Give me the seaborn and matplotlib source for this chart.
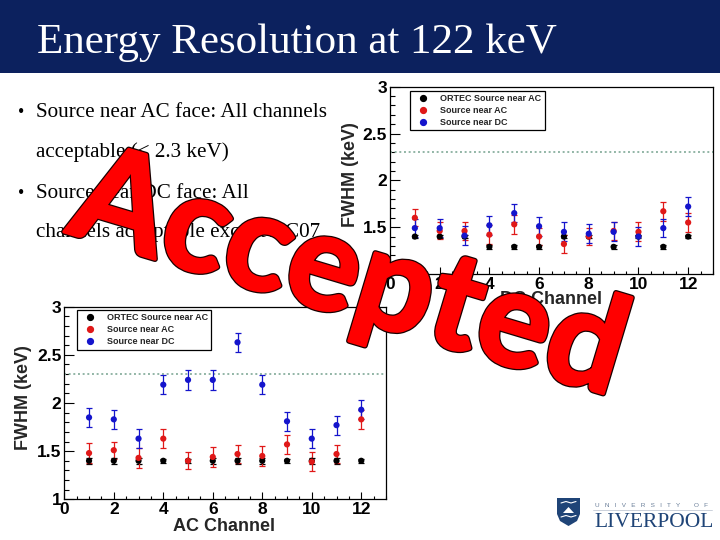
import matplotlib
matplotlib.use("Agg")
import matplotlib.pyplot as plt
import matplotlib.patheffects as pe
from matplotlib.patches import Rectangle, Polygon
from matplotlib.lines import Line2D
from matplotlib.ticker import MultipleLocator, FuncFormatter
import pandas as pd
import seaborn as sns

# ---------------- data ----------------
channels = [1, 2, 3, 4, 5, 6, 7, 8, 9, 10, 11, 12]
series_names = ["ORTEC Source near AC", "Source near AC", "Source near DC"]
series_colors = ["#000000", "#e01818", "#1414cc"]

# AC-channel plot (bottom-left)
ac_ortec = [1.40, 1.40, 1.40, 1.40, 1.40, 1.40, 1.40, 1.40, 1.40, 1.40, 1.40, 1.40]
ac_src_ac = [1.48, 1.51, 1.43, 1.63, 1.40, 1.44, 1.47, 1.45, 1.57, 1.39, 1.47, 1.83]
ac_src_dc = [1.85, 1.83, 1.63, 2.19, 2.24, 2.24, 2.63, 2.19, 1.81, 1.63, 1.77, 1.93]
ac_err_ortec = [0.03, 0.03, 0.03, 0.02, 0.02, 0.03, 0.03, 0.03, 0.02, 0.03, 0.03, 0.02]
ac_err_src_ac = [0.10, 0.09, 0.10, 0.10, 0.09, 0.10, 0.09, 0.10, 0.10, 0.10, 0.09, 0.10]
ac_err_src_dc = [0.10, 0.10, 0.10, 0.10, 0.10, 0.10, 0.10, 0.10, 0.10, 0.10, 0.10, 0.10]

# DC-channel plot (top-right)
dc_ortec = [1.40, 1.40, 1.40, 1.29, 1.29, 1.29, 1.40, 1.40, 1.29, 1.40, 1.29, 1.40]
dc_src_ac = [1.60, 1.46, 1.46, 1.42, 1.53, 1.40, 1.32, 1.40, 1.46, 1.45, 1.67, 1.55]
dc_src_dc = [1.49, 1.49, 1.41, 1.52, 1.65, 1.51, 1.45, 1.43, 1.45, 1.40, 1.49, 1.72]
dc_err_ortec = [0.02, 0.02, 0.02, 0.02, 0.02, 0.02, 0.02, 0.02, 0.02, 0.02, 0.02, 0.02]
dc_err_src_ac = [0.09, 0.09, 0.10, 0.10, 0.10, 0.09, 0.10, 0.09, 0.10, 0.10, 0.10, 0.10]
dc_err_src_dc = [0.10, 0.10, 0.10, 0.10, 0.10, 0.10, 0.10, 0.10, 0.10, 0.10, 0.10, 0.10]

threshold = 2.3
y_ticks = [1, 1.5, 2, 2.5, 3]
x_ticks = [0, 2, 4, 6, 8, 10, 12]

title_text = "Energy Resolution at 122 keV"
bullet_lines = [
    ("\u2022", "Source near AC face: All channels"),
    ("", "acceptable (< 2.3 keV)"),
    ("\u2022", "Source near DC face: All"),
    ("", "channels acceptable except AC07"),
]
stamp_text = "Accepted"
logo_top = "U   N   I   V   E   R   S   I   T   Y        O   F"
logo_main = "LIVERPOOL"

# ---------------- style ----------------
sns.set_style("ticks")
plt.rcParams["font.family"] = ["Liberation Sans", "DejaVu Sans"]
plt.rcParams["font.weight"] = "bold"
plt.rcParams["axes.linewidth"] = 0.9

W, H = 720, 540
fig = plt.figure(figsize=(7.2, 5.4), dpi=100)
fig.patch.set_facecolor("white")


def rect(x0, y0, x1, y1):
    return [x0 / W, 1 - y1 / H, (x1 - x0) / W, (y1 - y0) / H]


def fp(x, y):
    return (x / W, 1 - y / H)


# title bar
fig.patches.append(Rectangle(fp(0, 73), 1, 73 / H, transform=fig.transFigure,
                             facecolor="#0c215e", edgecolor="none", zorder=0))
fig.text(*fp(37, 53), title_text, color="white", family="Liberation Serif",
         weight="normal", fontsize=31, va="baseline", ha="left")

# bullets
baselines = [117, 157, 198, 237]
for (bul, txt), yb in zip(bullet_lines, baselines):
    if bul:
        fig.text(*fp(18, yb), bul, family="Liberation Serif", weight="normal",
                 fontsize=13, va="baseline", ha="left", color="black")
    fig.text(*fp(36, yb), txt, family="Liberation Serif", weight="normal",
             fontsize=15.2, va="baseline", ha="left", color="black")


def make_df(vals_list, errs_list):
    rows = []
    for name, vals, errs in zip(series_names, vals_list, errs_list):
        for c, v, e in zip(channels, vals, errs):
            rows.append({"channel": c, "fwhm": v, "err": e, "series": name})
    return pd.DataFrame(rows)


def draw_panel(ax, df, xlabel, ylab_x, xlab_y, leg_anchor):
    for name, col in zip(series_names, series_colors):
        sub = df[df["series"] == name]
        ax.errorbar(sub["channel"], sub["fwhm"], yerr=sub["err"], fmt="none",
                    ecolor=col, elinewidth=0.9, capsize=2.0, capthick=0.9, zorder=2)
        sns.scatterplot(data=sub, x="channel", y="fwhm", color=col, s=20,
                        marker="o", linewidth=0, edgecolor="none", ax=ax,
                        legend=False, zorder=3)
    ax.axhline(threshold, color="#92b5a6", linestyle=(0, (1, 1.4)), linewidth=1.4, zorder=1)
    ax.set_xlim(0, 13)
    ax.set_ylim(1, 3)
    ax.set_xticks(x_ticks)
    ax.set_yticks(y_ticks)
    ax.xaxis.set_minor_locator(MultipleLocator(0.5))
    ax.yaxis.set_minor_locator(MultipleLocator(0.1))
    ax.yaxis.set_major_formatter(FuncFormatter(lambda v, p: "%g" % v))
    ax.xaxis.set_major_formatter(FuncFormatter(lambda v, p: "%g" % v))
    ax.tick_params(which="both", direction="in", top=False, right=False,
                   labelsize=12.5, width=0.8, colors="black")
    ax.tick_params(axis="y", which="major", length=7, pad=2)
    ax.tick_params(axis="y", which="minor", length=3.5)
    ax.tick_params(axis="x", which="major", length=5, pad=2)
    ax.tick_params(axis="x", which="minor", length=2.5)
    for s in ax.spines.values():
        s.set_visible(True)
        s.set_color("black")
    ax.set_xlabel(xlabel, fontsize=13, fontweight="bold")
    ax.set_ylabel("FWHM (keV)", fontsize=13, fontweight="bold")
    ax.yaxis.set_label_coords(ylab_x, 0.53)
    ax.xaxis.set_label_coords(0.497, xlab_y)
    handles = [Line2D([], [], marker="o", linestyle="none", color=c, markersize=4.2)
               for c in series_colors]
    leg = ax.legend(handles, series_names, loc="upper left", bbox_to_anchor=leg_anchor,
                    borderaxespad=0, frameon=True, fancybox=False, framealpha=1,
                    edgecolor="black", fontsize=6.5, handlelength=2.2,
                    handletextpad=0.8, labelspacing=0.35, borderpad=0.35)
    leg.get_frame().set_linewidth(0.9)
    for t in leg.get_texts():
        t.set_fontweight("bold")


ax_dc = fig.add_axes(rect(390, 86.7, 713, 274))
draw_panel(ax_dc, make_df([dc_ortec, dc_src_ac, dc_src_dc],
                          [dc_err_ortec, dc_err_src_ac, dc_err_src_dc]),
           "DC Channel", -0.096, -0.09, (0.062, 0.979))

ax_ac = fig.add_axes(rect(64.3, 306.7, 386, 499.3))
draw_panel(ax_ac, make_df([ac_ortec, ac_src_ac, ac_src_dc],
                          [ac_err_ortec, ac_err_src_ac, ac_err_src_dc]),
           "AC Channel", -0.100, -0.095, (0.039, 0.983))

# stamp
fig.text(*fp(338, 314), stamp_text, rotation=-16.7, rotation_mode="anchor",
         ha="center", va="baseline", fontsize=97, family="Lato", weight="bold",
         color="#ff0000", zorder=20,
         path_effects=[pe.withStroke(linewidth=4.2, foreground="#1a0000"),
                       pe.Stroke(linewidth=2.4, foreground="#ff0000"),
                       pe.Normal()])

# university logo
shield = [fp(557, 498), fp(580, 498), fp(580, 514), fp(577, 521), fp(568.5, 526),
          fp(560, 521), fp(557, 514)]
fig.patches.append(Polygon(shield, closed=True, transform=fig.transFigure,
                           facecolor="#1f4477", edgecolor="none", zorder=5))
for yy in (503, 517):
    fig.lines.append(Line2D([561 / W, 566 / W, 571 / W, 576 / W],
                            [1 - yy / H, 1 - (yy - 1.5) / H, 1 - yy / H, 1 - (yy - 1.5) / H],
                            transform=fig.transFigure, color="white", linewidth=0.8, zorder=6))
fig.patches.append(Polygon([fp(563, 513), fp(568.5, 507), fp(574, 513)], closed=True,
                           transform=fig.transFigure, facecolor="white",
                           edgecolor="none", zorder=6))
fig.lines.append(Line2D([593 / W, 712 / W], [1 - 510 / H, 1 - 510 / H],
                        transform=fig.transFigure, color="#c3cad6", linewidth=0.6))
fig.text(*fp(595, 507), logo_top, family="Liberation Sans",
         weight="normal", fontsize=4.6, color="#6a7f99", ha="left", va="baseline")
fig.text(*fp(594, 527), logo_main, family="Liberation Serif", weight="normal",
         fontsize=15.5, color="#1f4477", ha="left", va="baseline")

fig.savefig("out.png", dpi=100)
